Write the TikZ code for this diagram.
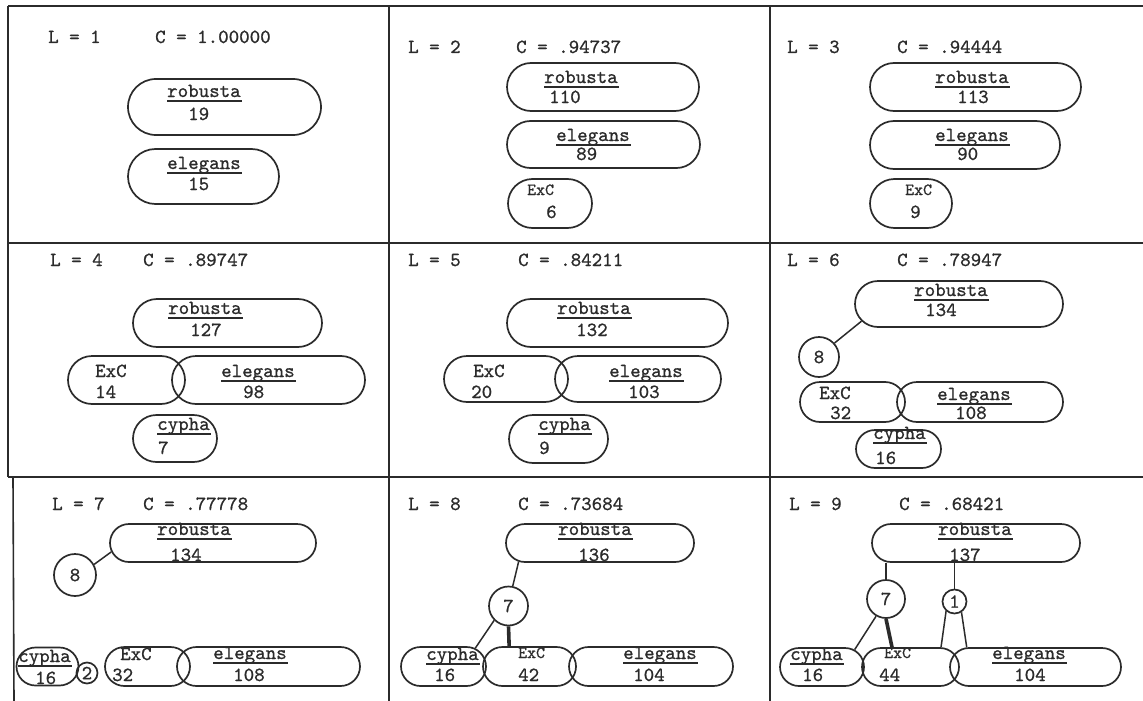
\documentclass[tikz,border=0pt]{standalone}
\usepackage{fontspec}
\usetikzlibrary{shapes.misc}
\newfontfamily\twfont{lmmono10-regular.otf}[FakeBold=0.9]
\definecolor{ink}{HTML}{2B2B2B}

% typewriter-style underline drawn at a fixed depth below the baseline
\newsavebox\ulbox
\newcommand\ulin[1]{\sbox\ulbox{#1}\rlap{\rule[-4.6pt]{\dimexpr\wd\ulbox+1.5pt\relax}{1.4pt}}\usebox\ulbox}

\tikzset{
  pill/.style={draw=ink, line width=1.7pt, rounded rectangle, inner sep=0pt},
  txt/.style={anchor=base west, inner sep=0pt, text=ink, font=\fontsize{20}{24}\selectfont\twfont},
  txtsm/.style={font=\fontsize{17}{20}\selectfont\twfont},
  ring/.style={draw=ink, line width=1.7pt, circle, inner sep=0pt, text=ink, font=\fontsize{20}{24}\selectfont\twfont},
  link/.style={draw=ink, line width=1.5pt},
  heavy/.style={draw=ink, line width=3.6pt},
  gridline/.style={draw=ink, line width=1.6pt},
}

% pill: name, x, y, width, height
\newcommand\pl[5]{\node[pill, minimum width=#4, minimum height=#5] (#1) at (#2,#3) {};}
% text: [style], name, x, y, text (anchored at its base west point)
\newcommand\tx[5][]{\node[txt,#1] (#2) at (#3,#4) {#5};}
% circle: name, x, y, diameter, text
\newcommand\rg[5]{\node[ring, minimum size=#4] (#1) at (#2,#3) {#5};}

\begin{document}
\begin{tikzpicture}[x=1pt, y=-1pt]
\useasboundingbox (0,0) rectangle (1143,701);

% frame and cell dividers
\draw[gridline] (8,6) -- (1143,6);
\draw[gridline] (8,243) -- (1143,243);
\draw[gridline] (8,477) -- (1143,477);
\draw[gridline] (8,6) -- (8,477);
\draw[gridline] (13,477) -- (14,701);
\draw[gridline] (389,6) -- (389,701);
\draw[gridline] (770,6) -- (770,701);

% ---- L = 1
\tx{la}{48}{43}{L = 1}
\tx{ca}{155}{43}{C = 1.00000}
\pl{ra}{224.5}{107}{193}{56}
\tx{ra1}{167}{97}{\ulin{robusta}}
\tx{ra2}{188}{120}{19}
\pl{ea}{203.5}{176.5}{151}{55}
\tx{ea1}{167}{169}{\ulin{elegans}}
\tx{ea2}{188}{190}{15}

% ---- L = 2
\tx{lb}{408}{53}{L = 2}
\tx{cb}{516}{53}{C = .94737}
\pl{rb}{603}{87}{192}{48}
\tx{rb1}{544}{83}{\ulin{robusta}}
\tx{rb2}{549}{103}{110}
\pl{eb}{603.5}{144.5}{193}{47}
\tx{eb1}{556}{141}{\ulin{elegans}}
\tx{eb2}{576}{160}{89}
\pl{xb}{550}{203.5}{84}{49}
\tx[txtsm]{xb1}{527}{195}{ExC}
\tx{xb2}{546}{218}{6}

% ---- L = 3
\tx{lc}{787}{53}{L = 3}
\tx{cc}{897}{53}{C = .94444}
\pl{rc}{975.5}{87}{211}{48}
\tx{rc1}{935}{83}{\ulin{robusta}}
\tx{rc2}{957}{103}{113}
\pl{ec}{965}{145}{190}{48}
\tx{ec1}{935}{141}{\ulin{elegans}}
\tx{ec2}{957}{160}{90}
\pl{xc}{911}{203.5}{82}{49}
\tx[txtsm]{xc1}{905}{195}{ExC}
\tx{xc2}{910}{218}{9}

% ---- L = 4
\tx{ld}{50}{266}{L = 4}
\tx{cd}{143}{266}{C = .89747}
\pl{rd}{227.5}{323}{189}{48}
\tx{rd1}{168}{314}{\ulin{robusta}}
\tx{rd2}{190}{336}{127}
\pl{xd}{126.5}{380}{117}{48}
\pl{ed}{268.5}{380}{193}{48}
\tx{xd1}{95}{377}{ExC}
\tx{xd2}{95}{398}{14}
\tx{ed1}{221}{377}{\ulin{elegans}}
\tx{ed2}{243}{398}{98}
\pl{yd}{175}{438.5}{84}{47}
\tx{yd1}{157}{430}{\ulin{cypha}}
\tx{yd2}{158}{454}{7}

% ---- L = 5
\tx{le}{408}{266}{L = 5}
\tx{ce}{518}{266}{C = .84211}
\pl{re}{617.5}{323}{221}{48}
\tx{re1}{557}{314}{\ulin{robusta}}
\tx{re2}{576}{336}{132}
\pl{xe}{506}{379}{124}{46}
\pl{ee}{638}{379}{166}{46}
\tx{xe1}{473}{377}{ExC}
\tx{xe2}{471}{398}{20}
\tx{ee1}{609}{377}{\ulin{elegans}}
\tx{ee2}{628}{398}{103}
\pl{ye}{558.5}{439}{99}{48}
\tx{ye1}{538}{430}{\ulin{cypha}}
\tx{ye2}{539}{454}{9}

% ---- L = 6
\tx{lf}{787}{266}{L = 6}
\tx{cf}{897}{266}{C = .78947}
\pl{rf}{959}{304}{208}{46}
\tx{rf1}{914}{296}{\ulin{robusta}}
\tx{rf2}{925}{316}{134}
\rg{of}{819}{357}{40}{8}
\draw[link] (of.42) -- (rf.190);
\pl{xf}{852.5}{402}{105}{40}
\pl{ef}{980}{402}{166}{40}
\tx{xf1}{819}{399}{ExC}
\tx{xf2}{830}{419}{32}
\tx{ef1}{937}{400}{\ulin{elegans}}
\tx{ef2}{955}{419}{108}
\pl{yf}{898.5}{449}{85}{38}
\tx{yf1}{873}{439}{\ulin{cypha}}
\tx{yf2}{875}{464}{16}

% ---- L = 7
\tx{lg}{52}{510}{L = 7}
\tx{cg}{143}{510}{C = .77778}
\pl{rg}{213}{543}{206}{38}
\tx{rg1}{157}{535}{\ulin{robusta}}
\tx{rg2}{170}{561}{134}
\rg{og}{75}{575}{42}{8}
\draw[link] (og.29) -- (rg.185);
\pl{yg}{47.5}{666.5}{62}{38}
\tx{yg1}{18}{662}{\ulin{cypha}}
\tx{yg2}{35}{684}{16}
\rg{tg}{87}{673}{21}{2}
\pl{xg}{147.5}{666.5}{85}{39}
\pl{eg}{268.5}{666.5}{183}{39}
\tx{xg1}{120}{660}{ExC}
\tx{xg2}{112}{681}{32}
\tx{eg1}{213}{659}{\ulin{elegans}}
\tx{eg2}{233}{681}{108}

% ---- L = 8
\tx{lh}{408}{510}{L = 8}
\tx{ch}{518}{510}{C = .73684}
\pl{rh}{600}{543}{188}{38}
\tx{rh1}{558}{535}{\ulin{robusta}}
\tx{rh2}{578}{561}{136}
\rg{oh}{508.5}{606}{39}{7}
\pl{yh}{443.5}{666.5}{85}{39}
\pl{xh}{529.5}{666.5}{93}{39}
\pl{eh}{651}{666.5}{164}{39}
\tx{yh1}{426}{660}{\ulin{cypha}}
\tx{yh2}{434}{681}{16}
\tx[txtsm]{xh1}{518}{658}{ExC}
\tx{xh2}{518}{681}{42}
\tx{eh1}{623}{659}{\ulin{elegans}}
\tx{eh2}{633}{681}{104}
\draw[link] (oh.78) -- (rh.193);
\draw[link] (oh.225) -- (yh.30);
\draw[heavy] (oh.south) -- (xh.135);

% ---- L = 9
\tx{li}{789}{510}{L = 9}
\tx{ci}{899}{510}{C = .68421}
\pl{ri}{976}{543}{208}{38}
\tx{ri1}{938}{535}{\ulin{robusta}}
\tx{ri2}{949}{561}{137}
\rg{oi}{886}{599}{38}{7}
\rg{ni}{954.5}{601.5}{24}{1}
\pl{yi}{822}{667}{84}{38}
\pl{xi}{910.5}{667}{97}{38}
\pl{ei}{1035.5}{667}{171}{38}
\tx{yi1}{790}{660}{\ulin{cypha}}
\tx{yi2}{802}{681}{16}
\tx[txtsm]{xi1}{884}{658}{ExC}
\tx{xi2}{879}{681}{44}
\tx{ei1}{992}{659}{\ulin{elegans}}
\tx{ei2}{1014}{681}{104}
\draw[link] (oi.north) -- (oi.north |- ri.south);
\draw[link] (ni.north) -- (ni.north |- ri.south);
\draw[link] (oi.240) -- (yi.28);
\draw[heavy] (oi.south) -- (xi.133);
\draw[link] (ni.229) -- (xi.33);
\draw[link] (ni.303) -- (ei.164);
\end{tikzpicture}
\end{document}
